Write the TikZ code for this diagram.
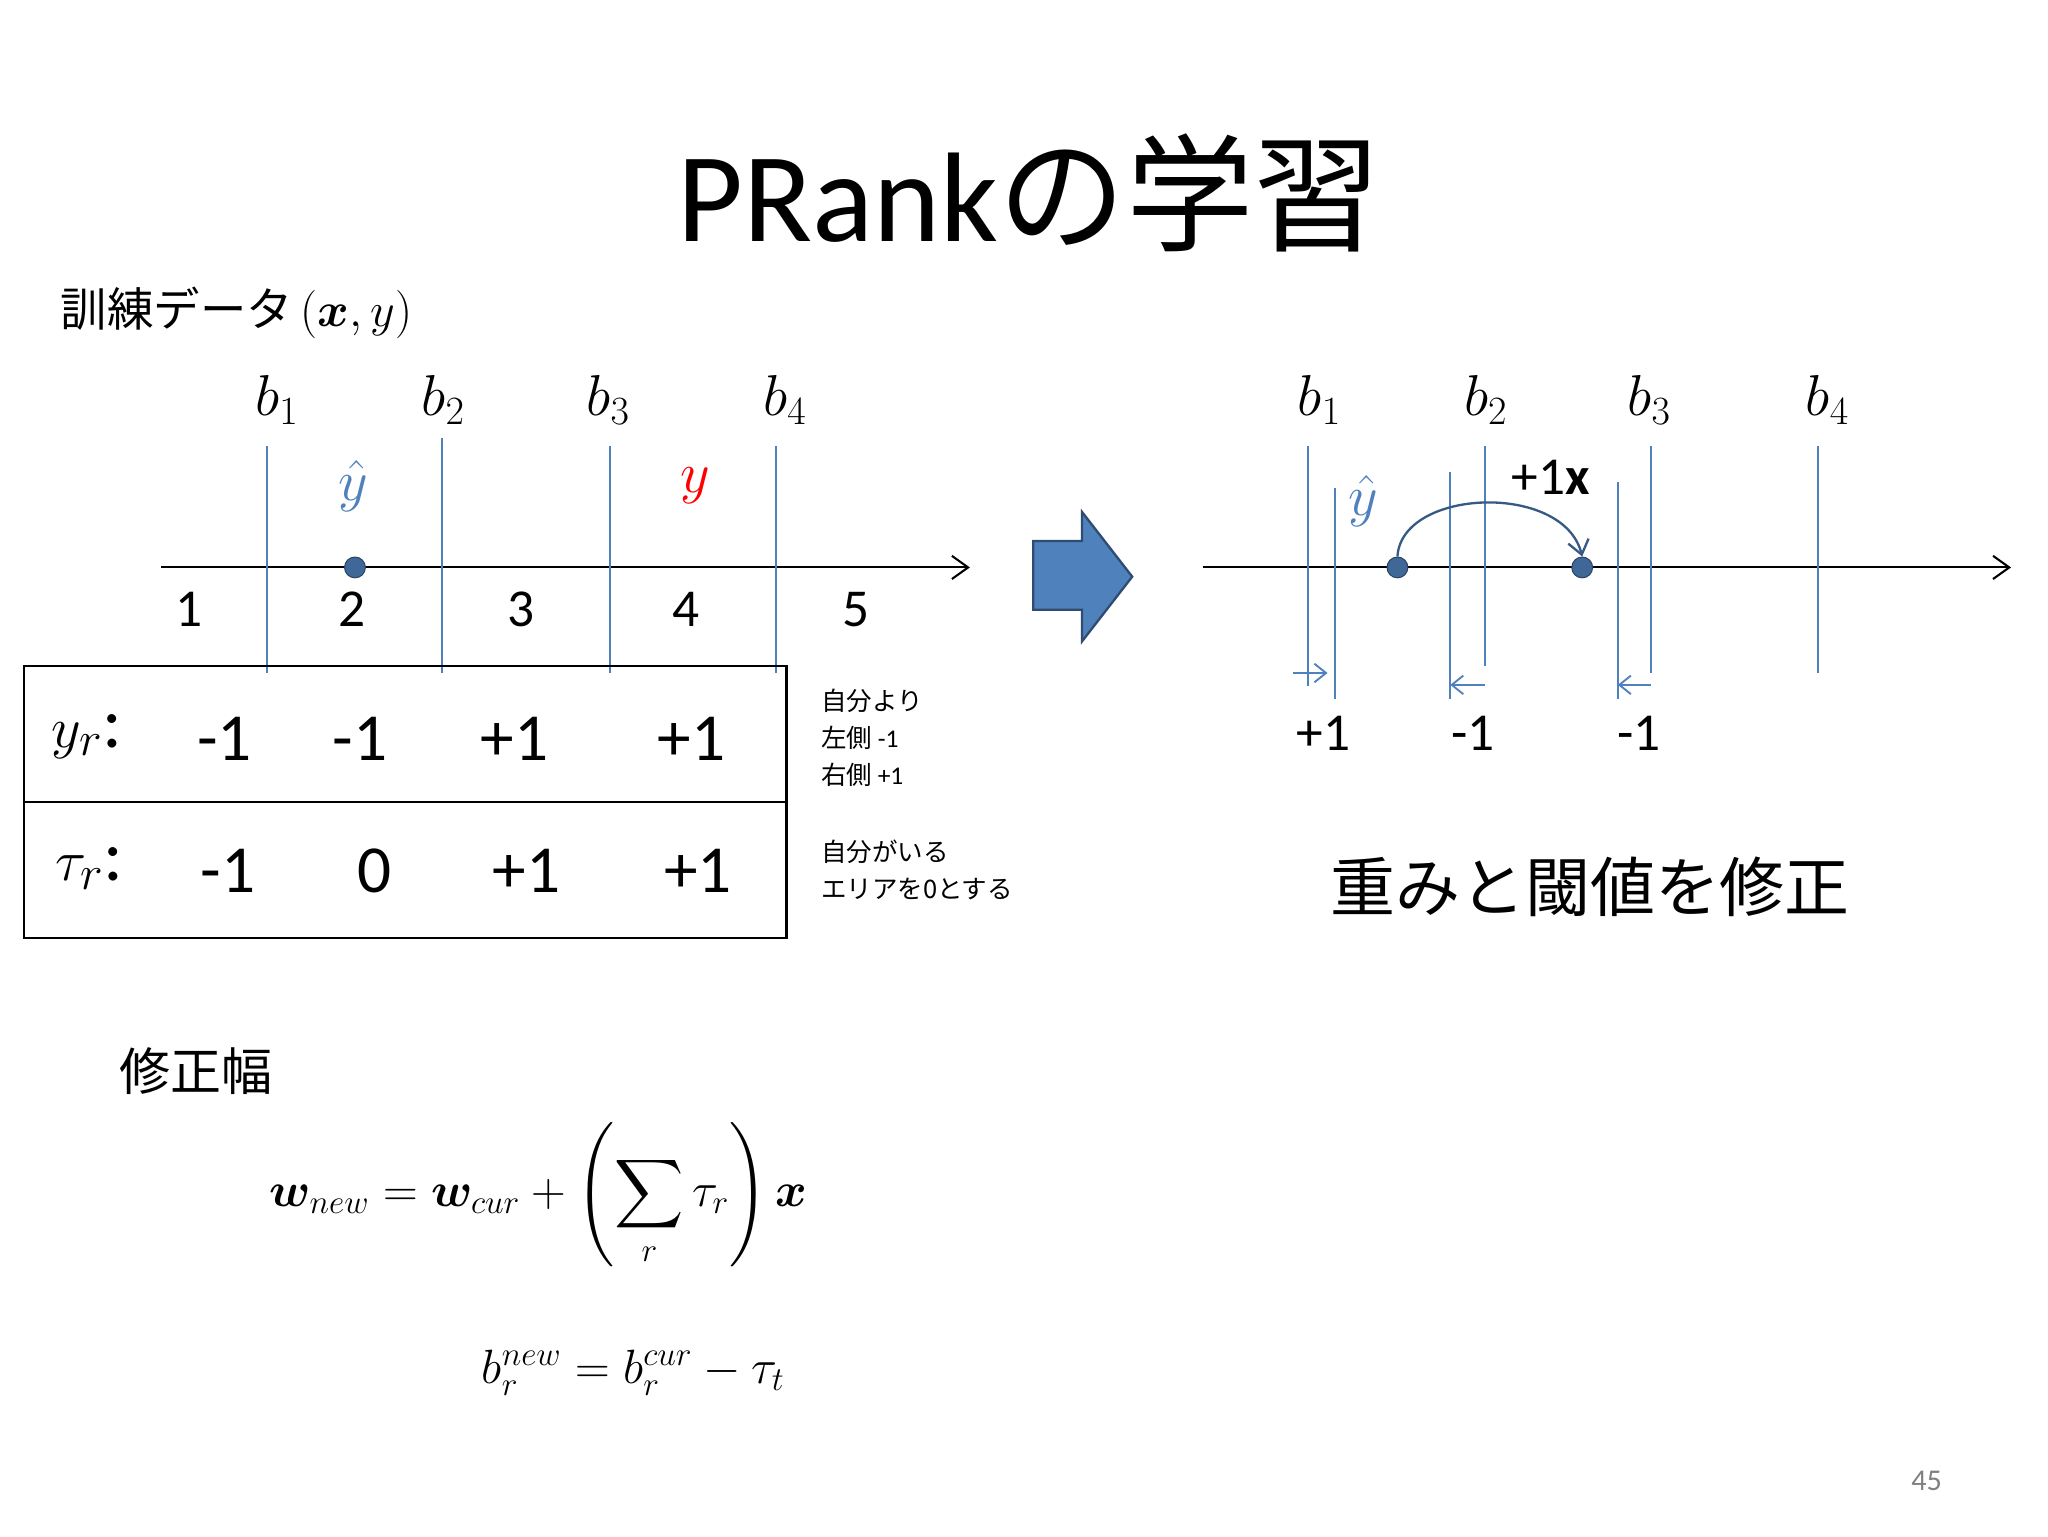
\documentclass[tikz,border=0pt]{standalone}
\usepackage{amsmath,bm}
\usepackage{fontspec}
\setmainfont{Carlito}
\newfontfamily\cjk{Noto Sans CJK JP}
\usetikzlibrary{arrows.meta}
\definecolor{lb}{RGB}{79,129,189}
\newcommand{\fs}[1]{\fontsize{#1}{#1}\selectfont}
\tikzset{
 vl/.style={draw=lb,line width=0.9pt},
 ax/.style={draw=black,line width=0.9pt,-{Straight Barb[length=7pt,width=10pt]}},
 dot/.style={circle,fill=lb!80!black,draw=lb!50!black,inner sep=0pt,minimum width=9pt,minimum height=7pt},
 bl/.style={font=\fs{24}},
 num/.style={font=\fs{23}},
 big/.style={font=\fs{29}},
 note/.style={font=\cjk\fontsize{11}{16}\selectfont,align=left,anchor=north west},
 sm/.style={draw=lb,line width=0.8pt,-{Straight Barb[length=5pt,width=8pt]}}
}
\begin{document}
\begin{tikzpicture}[x=0.02cm,y=-0.02cm]
\useasboundingbox (0,0) rectangle (1552,1164);
\fill[white] (0,0) rectangle (1552,1164);
\node (title) at (780,146) {\fs{55}PRank{\cjk の学習}};
\node[anchor=west] (td) at (40,237) {\cjk\fs{20}訓練データ\,{\rmfamily$(\bm{x},y)$}};
% left diagram
\coordinate (la) at (122,430); \coordinate (lb) at (735,430);
\draw[ax] (la) -- (lb);
\foreach \x/\t/\i in {202/338/1,335/332/2,462/338/3,588/338/4}{
 \draw[vl] (\x,\t) -- (\x,510);}
\foreach \x/\i in {210/1,336/2,461/3,595/4}{\node[bl] (lb\i) at (\x,303) {$b_{\i}$};}
\node[text=lb,font=\fs{28}] (yh) at (268,368) {$\hat{y}$};
\node[bl,text=red,font=\fs{30}] (yy) at (527,368) {$y$};
\node[dot] (ld) at (269,430) {};
\foreach \x/\n in {143/1,267/2,395/3,520/4,649/5}{\node[num] (n\n) at (\x,462) {\n};}
\draw[line width=0.9pt] (18,505) rectangle (596,711);
\draw[line width=0.9pt] (18,608) -- (596,608);
\node[big,font=\fs{32}] (yr) at (66,558) {$y_r$:};
\foreach \x/\t [count=\i] in {170/-1,273/-1,390/+1,524/+1}{\node[big] (r1\i) at (\x,560) {\t};}
\node[big,font=\fs{32}] (tr) at (68,658) {$\tau_r$:};
\foreach \x/\t [count=\i] in {173/-1,284/0,399/+1,529/+1}{\node[big] (r2\i) at (\x,660) {\t};}
\node[note] (n1) at (616,516) {自分より\\左側 {\normalfont\fs{11}-1}\\右側 {\normalfont\fs{11}+1}};
\node[note] (n2) at (616,630) {自分がいる\\エリアを0とする};
% big arrow
\draw[fill=lb,draw=lb!60!black,line width=1pt] (783,410) -- (820,410) -- (820,388) -- (858,437) -- (820,486) -- (820,462) -- (783,462) -- cycle;
% right diagram
\coordinate (ra) at (912,430); \coordinate (rb) at (1524,430);
\draw[ax] (ra) -- (rb);
\draw[vl] (991,338) -- (991,520);
\draw[vl] (1012,370) -- (1012,530);
\draw[vl] (1125,338) -- (1125,505);
\draw[vl] (1099,358) -- (1099,530);
\draw[vl] (1251,338) -- (1251,510);
\draw[vl] (1226,365) -- (1226,530);
\draw[vl] (1378,338) -- (1378,510);
\coordinate (s1a) at (980,510); \coordinate (s1b) at (1006,510);
\coordinate (s2a) at (1125,519); \coordinate (s2b) at (1099,519);
\coordinate (s3a) at (1251,519); \coordinate (s3b) at (1226,519);
\draw[sm] (s1a) -- (s1b); \draw[sm] (s2a) -- (s2b); \draw[sm] (s3a) -- (s3b);
\node[num] (p1) at (1003,556) {+1};
\node[num] (m1) at (1116,556) {-1};
\node[num] (m2) at (1242,556) {-1};
\foreach \x/\i in {1000/1,1126/2,1250/3,1385/4}{\node[bl] (rb\i) at (\x,303) {$b_{\i}$};}
\node[text=lb,font=\fs{28}] (ryh) at (1033,380) {$\hat{y}$};
\node[dot] (d1) at (1059,430) {};
\node[dot] (d2) at (1199,430) {};
\draw[lb!70!black,line width=1pt,-{Straight Barb[length=6pt,width=9pt]}] (d1.north) .. controls (1062,370) and (1185,365) .. (d2.north);
\node[num] (px) at (1175,362) {+1\textbf{x}};
\node (fix) at (1205,672) {\cjk\fs{28}重みと閾値を修正};
% formulas
\node[anchor=west] (sh) at (84,812) {\cjk\fs{22}修正幅};
\node (f1) at (408,905) {\fs{22}$\bm{w}_{new}=\bm{w}_{cur}+\left(\displaystyle\sum_r\tau_r\right)\bm{x}$};
\node (f2) at (480,1040) {\fs{22}$b_r^{new}=b_r^{cur}-\tau_t$};
\node[text=gray] (pg) at (1460,1122) {\fs{13}45};
\end{tikzpicture}
\end{document}
